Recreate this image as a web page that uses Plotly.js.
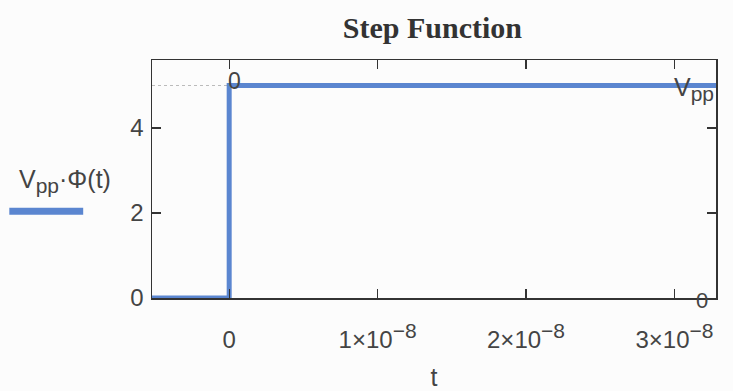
<!DOCTYPE html>
<html><head><meta charset="utf-8">
<script src="https://cdn.plot.ly/plotly-3.0.1.min.js"></script>
<style>html,body{margin:0;padding:0;background:#fcfcfc}</style>
</head><body>
<div id="chart" style="width:733px;height:391px"></div>
<script>
// data
const tValues = [-5.2e-9, 0, 0, 3.28e-8];
const vValues = [0, 0, 5, 5];
const xTickVals = [0, 1e-8, 2e-8, 3e-8];
const xTickText = ['0',
  '1×10<sup><span style="font-size:21px">−8</span></sup>',
  '2×10<sup><span style="font-size:21px">−8</span></sup>',
  '3×10<sup><span style="font-size:21px">−8</span></sup>'];
const yTickVals = [0, 2, 4];
const yTickText = ['0', '2', '4'];
const Vpp = 5;

const lineColor = '#5b86d0';
const trace = {
  x: tValues, y: vValues, mode: 'lines', type: 'scatter',
  line: {color: lineColor, width: 5}, showlegend: false, hoverinfo: 'skip'
};
const sans = 'Liberation Sans, Arial, sans-serif';
const tickFont = {family: sans, size: 24, color: '#444'};
const sub = s => '<sub><span style="font-size:21px">' + s + '</span></sub>';
const layout = {
  width: 733, height: 391,
  paper_bgcolor: '#fcfcfc', plot_bgcolor: '#fcfcfc',
  margin: {l: 152, r: 17, t: 60, b: 93},
  title: {text: '<b>Step Function</b>', font: {family: 'Liberation Serif, Times New Roman, serif', size: 30, color: '#333'}, x: 0.59, xanchor: 'center', y: 0.93, yanchor: 'middle'},
  xaxis: {
    range: [-5.2e-9, 3.28e-8], tickvals: xTickVals, ticktext: xTickText,
    ticks: 'inside', ticklen: 9, tickcolor: '#333', tickwidth: 1.2,
    showline: true, linecolor: '#333', linewidth: 1.5, mirror: 'ticks',
    showgrid: false, zeroline: false, tickfont: tickFont, ticklabelstandoff: 20,
    title: {text: 't', font: {family: sans, size: 25, color: '#444'}, standoff: 20}
  },
  yaxis: {
    range: [0, 5.6], tickvals: yTickVals, ticktext: yTickText,
    ticks: 'inside', ticklen: 9, tickcolor: '#333', tickwidth: 1.2,
    showline: true, linecolor: '#333', linewidth: 1.5, mirror: 'ticks',
    showgrid: false, zeroline: false, tickfont: tickFont, ticklabelstandoff: 2
  },
  shapes: [
    {type: 'line', xref: 'x', yref: 'y', x0: -5.2e-9, x1: 0, y0: Vpp, y1: Vpp,
     line: {color: '#bbb', width: 1, dash: 'dot'}, layer: 'below'},
    {type: 'line', xref: 'paper', yref: 'paper', x0: -0.253, x1: -0.122, y0: 0.364, y1: 0.364,
     line: {color: lineColor, width: 7}}
  ],
  annotations: [
    {xref: 'paper', yref: 'paper', x: -0.155, y: 0.49, xanchor: 'center', yanchor: 'middle', showarrow: false,
     text: 'V' + sub('pp') + '·Φ(t)', font: {family: sans, size: 25, color: '#444'}},
    {xref: 'x', yref: 'y', x: 0, y: Vpp, xanchor: 'left', yanchor: 'bottom', xshift: -3, yshift: -10, showarrow: false,
     text: '0', font: {family: sans, size: 23, color: '#444'}},
    {xref: 'paper', yref: 'y', x: 1, y: Vpp, xanchor: 'right', yanchor: 'middle', xshift: 0, yshift: -3, showarrow: false,
     text: 'V' + sub('pp'), font: {family: sans, size: 25, color: '#444'}},
    {xref: 'paper', yref: 'y', x: 1, y: 0, xanchor: 'right', yanchor: 'middle', xshift: -6, yshift: -2, showarrow: false,
     text: '0', font: {family: sans, size: 22, color: '#444'}}
  ]
};
Plotly.newPlot('chart', [trace], layout, {staticPlot: true, displayModeBar: false});
</script>
</body></html>
